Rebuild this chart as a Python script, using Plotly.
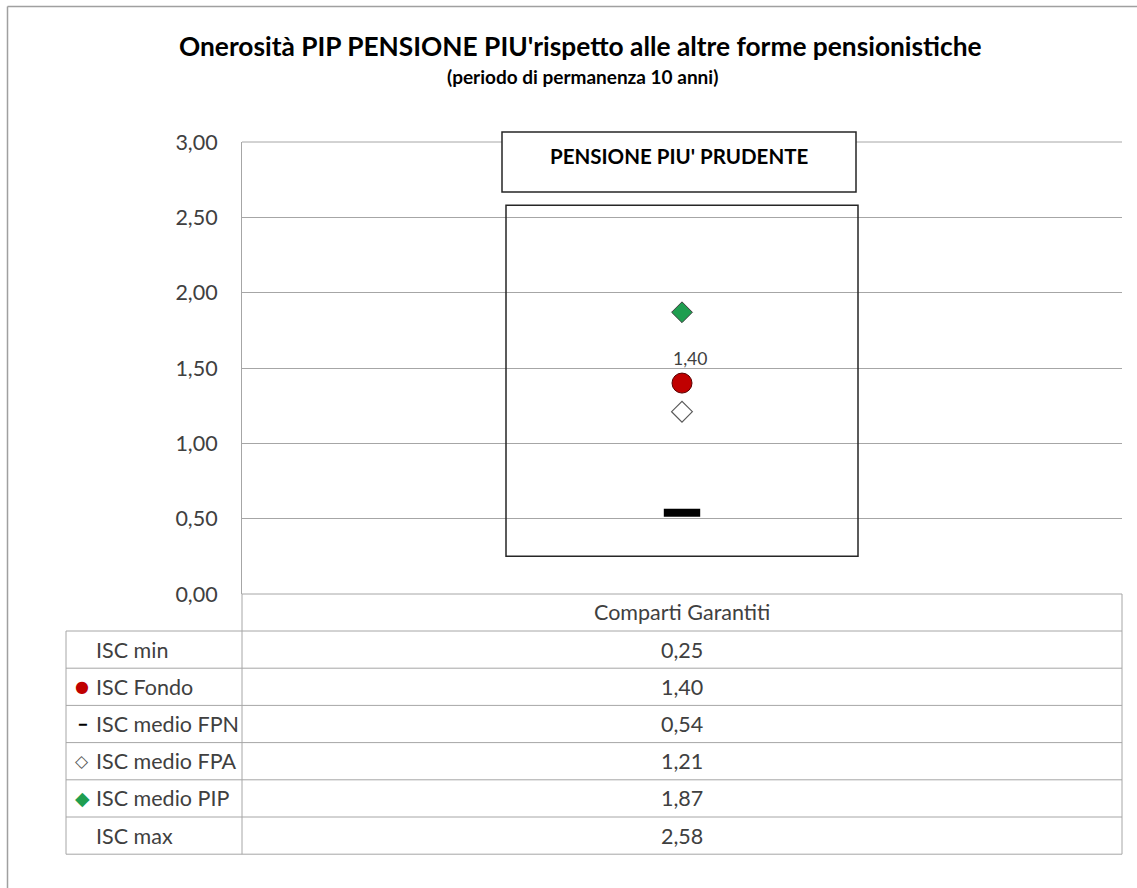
import plotly.graph_objects as go

# ---- data ----
title = "Onerosità PIP PENSIONE PIU'rispetto alle altre forme pensionistiche"
subtitle = "(periodo di permanenza 10 anni)"
panel_label = "PENSIONE PIU' PRUDENTE"
categories = ["Comparti Garantiti"]
isc_min = [0.25]
isc_fondo = [1.40]
isc_fpn = [0.54]
isc_fpa = [1.21]
isc_pip = [1.87]
isc_max = [2.58]
row_labels = ["ISC min", "ISC Fondo", "ISC medio FPN", "ISC medio FPA", "ISC medio PIP", "ISC max"]
row_values = [isc_min, isc_fondo, isc_fpn, isc_fpa, isc_pip, isc_max]
y_ticks = [0, 0.5, 1.0, 1.5, 2.0, 2.5, 3.0]

W, H = 1137, 888
def px(x):
    return x / W
def py(y):
    return 1 - y / H

FONT = "Lato"
GRID = "#a6a6a6"
TXT = "#404040"
TS = 21.5

def fmt(v):
    return f"{v:.2f}".replace(".", ",")

fig = go.Figure()

# min-max box
fig.add_trace(go.Bar(
    x=categories, base=isc_min,
    y=[mx - mn for mx, mn in zip(isc_max, isc_min)],
    width=0.4, marker=dict(color="rgba(0,0,0,0)", line=dict(color="#262626", width=1.5)),
    hoverinfo="skip", showlegend=False))

fig.add_trace(go.Scatter(x=categories, y=isc_fpn, mode="markers",
    marker=dict(symbol="line-ew", size=26, line=dict(color="black", width=8)),
    showlegend=False, hoverinfo="skip"))
fig.add_trace(go.Scatter(x=categories, y=isc_fpa, mode="markers",
    marker=dict(symbol="diamond", size=16, color="white", line=dict(color="#595959", width=1.2)),
    showlegend=False, hoverinfo="skip"))
fig.add_trace(go.Scatter(x=categories, y=isc_pip, mode="markers",
    marker=dict(symbol="diamond", size=16, color="#1f9e50", line=dict(color="#404040", width=1)),
    showlegend=False, hoverinfo="skip"))
fig.add_trace(go.Scatter(x=categories, y=isc_fondo, mode="markers",
    marker=dict(symbol="circle", size=20, color="#c00000", line=dict(color="#5a0000", width=1)),
    showlegend=False, hoverinfo="skip"))

annotations = []
# data label
annotations.append(dict(x=categories[0], y=isc_fondo[0], xref="x", yref="y",
    text=fmt(isc_fondo[0]), showarrow=False, yshift=25, xshift=8,
    font=dict(family=FONT, size=17.5, color=TXT)))

# titles
annotations.append(dict(x=px(580), y=py(46), xref="paper", yref="paper", text=f"<b>{title}</b>",
    showarrow=False, font=dict(family=FONT, size=26.3, color="black"), xanchor="center", yanchor="middle"))
annotations.append(dict(x=px(582), y=py(76), xref="paper", yref="paper", text=f"<b>{subtitle}</b>",
    showarrow=False, font=dict(family=FONT, size=19, color="black"), xanchor="center", yanchor="middle"))
# panel label
annotations.append(dict(x=px(679), y=py(156), xref="paper", yref="paper", text=f"<b>{panel_label}</b>",
    showarrow=False, font=dict(family=FONT, size=20.5, color="black"), xanchor="center", yanchor="middle"))

# table
row_top = 631
row_h = 37.2
col_mid = (242 + 1122) / 2
annotations.append(dict(x=px(col_mid), y=py(612), xref="paper", yref="paper", text=categories[0],
    showarrow=False, font=dict(family=FONT, size=TS, color=TXT), xanchor="center", yanchor="middle"))
symbols = [None,
           ("●", "#c00000", 16),
           ("━", "black", 13),
           ("◇", "#595959", 17),
           ("◆", "#1f9e50", 19),
           None]
for i, (lab, vals) in enumerate(zip(row_labels, row_values)):
    yc = row_top + row_h * (i + 0.5)
    sym = symbols[i]
    if sym:
        annotations.append(dict(x=px(82), y=py(yc), xref="paper", yref="paper", text=sym[0],
            showarrow=False, font=dict(family="DejaVu Sans", size=sym[2], color=sym[1]),
            xanchor="center", yanchor="middle"))
    annotations.append(dict(x=px(94), y=py(yc), xref="paper", yref="paper", text=lab,
        showarrow=False, font=dict(family=FONT, size=TS, color=TXT), xanchor="left", yanchor="middle"))
    annotations.append(dict(x=px(col_mid), y=py(yc), xref="paper", yref="paper", text=fmt(vals[0]),
        showarrow=False, font=dict(family=FONT, size=TS, color=TXT), xanchor="center", yanchor="middle"))

shapes = []
def line(x0, y0, x1, y1, color=GRID, width=1):
    shapes.append(dict(type="line", xref="paper", yref="paper", x0=px(x0), y0=py(y0), x1=px(x1), y1=py(y1),
                       line=dict(color=color, width=width), layer="above"))

# outer frame
line(7.5, 6.5, 1137, 6.5, "#a0a0a0", 1.5)
line(7.5, 6.5, 7.5, 888, "#a0a0a0", 1.5)
# table grid
n = len(row_labels)
for i in range(n + 1):
    yy = row_top + row_h * i
    line(66, yy, 1122, yy)
line(66, row_top, 66, row_top + row_h * n)
line(242, 594, 242, row_top + row_h * n)
line(1122, 594, 1122, row_top + row_h * n)
line(242, 594, 1122, 594)
line(242, 142, 1122, 142)
# panel label box
shapes.append(dict(type="rect", xref="paper", yref="paper", x0=px(502), x1=px(856), y0=py(192), y1=py(132),
                   fillcolor="white", line=dict(color="#262626", width=1.5), layer="above"))

fig.update_layout(
    width=W, height=H, autosize=False,
    margin=dict(l=0, r=0, t=0, b=0),
    paper_bgcolor="white", plot_bgcolor="white",
    separators=",.",
    showlegend=False,
    annotations=annotations, shapes=shapes,
    xaxis=dict(domain=[px(242), px(1122)], type="category", categoryarray=categories,
               range=[-0.5, 0.5], showticklabels=False, showgrid=False, zeroline=False,
               showline=False, fixedrange=True),
    yaxis=dict(domain=[py(594), py(142)], range=[0, 3], tickvals=y_ticks, tickformat=".2f",
               showgrid=True, gridcolor=GRID, gridwidth=1, zeroline=False,
               showline=True, linecolor=GRID, linewidth=1, ticks="", ticklabelstandoff=19,
               tickfont=dict(family=FONT, size=TS, color=TXT), automargin=False, fixedrange=True),
)

fig.write_html("out.html", config={"displayModeBar": False},
               post_script="document.body.style.margin='0';document.body.style.overflow='hidden';")
